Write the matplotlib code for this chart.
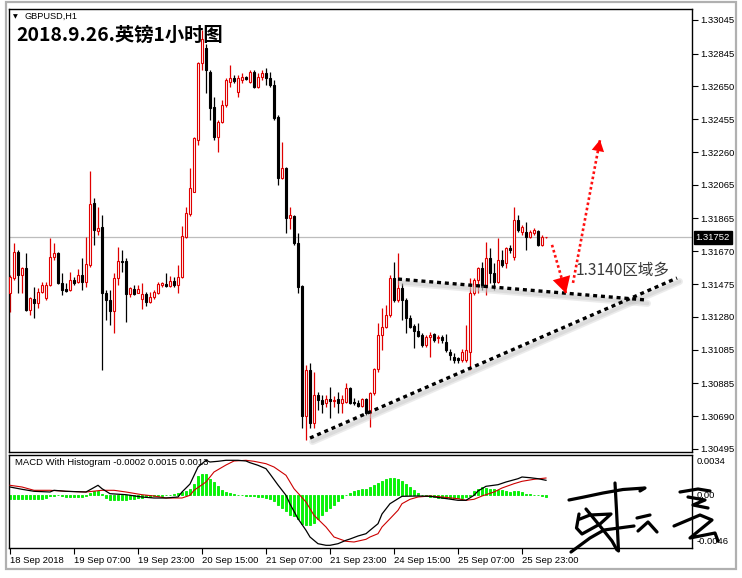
import matplotlib
matplotlib.use('Agg')
import matplotlib.pyplot as plt
import matplotlib.transforms as mtrans
from matplotlib.lines import Line2D
from matplotlib.patches import Rectangle

# ---------------- data ----------------
opens = [1.31420,1.31510,1.31668,1.31530,1.31569,1.31322,1.31385,1.31365,1.31430,1.31391,
         1.31470,1.31638,1.31658,1.31480,1.31444,1.31440,1.31500,1.31490,1.31530,1.31490,
         1.31589,1.31955,1.31793,1.31813,1.31421,1.31381,1.31318,1.31510,1.31613,1.31613,
         1.31415,1.31444,1.31421,1.31385,1.31417,1.31371,1.31397,1.31421,1.31470,1.31476,
         1.31464,1.31494,1.31470,1.31520,1.31753,1.31892,1.32025,1.32332,1.32787,1.32879,
         1.32738,1.32526,1.32352,1.32441,1.32540,1.32678,1.32698,1.32619,1.32688,1.32704,
         1.32678,1.32738,1.32649,1.32704,1.32732,1.32698,1.32659,1.32471,1.32104,1.32163,
         1.31866,1.31880,1.31717,1.31464,1.30691,1.30965,1.30652,1.30816,1.30786,1.30771,
         1.30790,1.30780,1.30790,1.30767,1.30776,1.30856,1.30776,1.30771,1.30751,1.30790,
         1.30707,1.30826,1.30969,1.31173,1.31222,1.31292,1.31509,1.31381,1.31450,1.31381,
         1.31272,1.31226,1.31198,1.31173,1.31113,1.31163,1.31177,1.31153,1.31163,1.31133,
         1.31074,1.31044,1.31034,1.31024,1.31024,1.31074,1.31420,1.31500,1.31569,1.31460,
         1.31628,1.31539,1.31490,1.31619,1.31599,1.31688,1.31638,1.31856,1.31787,1.31787,
         1.31757,1.31777,1.31793,1.31708,1.31752]
highs = [1.31530,1.31718,1.31675,1.31579,1.31658,1.31401,1.31460,1.31450,1.31490,1.31490,
         1.31747,1.31718,1.31665,1.31539,1.31480,1.31549,1.31520,1.31563,1.31628,1.31753,
         1.32147,1.31985,1.31935,1.31886,1.31440,1.31440,1.31539,1.31694,1.31678,1.31628,
         1.31460,1.31470,1.31470,1.31480,1.31430,1.31430,1.31440,1.31490,1.31490,1.31539,
         1.31524,1.31520,1.31589,1.31821,1.31935,1.32163,1.32352,1.32797,1.32986,1.32900,
         1.32748,1.32589,1.32451,1.32570,1.32698,1.32778,1.32718,1.32718,1.32728,1.32712,
         1.32748,1.32748,1.32728,1.32748,1.32758,1.32738,1.32688,1.32481,1.32322,1.32170,
         1.31935,1.31885,1.31777,1.31470,1.30994,1.31004,1.30955,1.30836,1.30816,1.30816,
         1.30866,1.30810,1.30836,1.30816,1.30885,1.30866,1.30796,1.30786,1.30796,1.30796,
         1.30836,1.30975,1.31242,1.31331,1.31351,1.31529,1.31609,1.31658,1.31480,1.31391,
         1.31292,1.31238,1.31242,1.31183,1.31173,1.31193,1.31183,1.31173,1.31173,1.31179,
         1.31088,1.31064,1.31044,1.31088,1.31232,1.31510,1.31510,1.31579,1.31609,1.31728,
         1.31688,1.31599,1.31747,1.31678,1.31698,1.31708,1.31935,1.31886,1.31827,1.31846,
         1.31797,1.31807,1.31797,1.31767,1.31757]
lows = [1.31312,1.31500,1.31421,1.31421,1.31318,1.31292,1.31272,1.31332,1.31421,1.31381,
        1.31464,1.31619,1.31475,1.31411,1.31430,1.31436,1.31470,1.31480,1.31440,1.31460,
        1.31579,1.31708,1.31767,1.30965,1.31262,1.31233,1.31187,1.31470,1.31549,1.31252,
        1.31401,1.31411,1.31421,1.31326,1.31345,1.31361,1.31385,1.31417,1.31460,1.31460,
        1.31456,1.31460,1.31421,1.31510,1.31747,1.31882,1.32020,1.32302,1.32748,1.32609,
        1.32451,1.32332,1.32263,1.32431,1.32530,1.32649,1.32669,1.32585,1.32669,1.32688,
        1.32669,1.32639,1.32639,1.32688,1.32659,1.32649,1.32451,1.32064,1.32098,1.31777,
        1.31801,1.31708,1.31424,1.30618,1.30549,1.30618,1.30618,1.30727,1.30707,1.30747,
        1.30677,1.30747,1.30707,1.30707,1.30767,1.30763,1.30757,1.30747,1.30747,1.30697,
        1.30628,1.30816,1.30955,1.31084,1.31212,1.31282,1.31371,1.31371,1.31262,1.31183,
        1.31212,1.31094,1.31163,1.31103,1.31103,1.31044,1.31133,1.31127,1.31127,1.31074,
        1.31024,1.31008,1.31008,1.31014,1.31014,1.30965,1.31411,1.31420,1.31440,1.31411,
        1.31480,1.31440,1.31480,1.31579,1.31569,1.31658,1.31619,1.31787,1.31767,1.31678,
        1.31747,1.31767,1.31702,1.31702,1.31747]
closes = [1.31520,1.31668,1.31530,1.31569,1.31322,1.31391,1.31365,1.31430,1.31470,1.31470,
          1.31638,1.31658,1.31480,1.31440,1.31436,1.31500,1.31484,1.31530,1.31490,1.31595,
          1.31951,1.31797,1.31807,1.31421,1.31381,1.31318,1.31510,1.31613,1.31607,1.31415,
          1.31450,1.31417,1.31444,1.31417,1.31371,1.31401,1.31430,1.31476,1.31480,1.31464,
          1.31494,1.31470,1.31520,1.31761,1.31896,1.32044,1.32342,1.32787,1.32930,1.32748,
          1.32520,1.32352,1.32441,1.32540,1.32688,1.32698,1.32684,1.32698,1.32708,1.32692,
          1.32738,1.32649,1.32708,1.32732,1.32698,1.32659,1.32461,1.32104,1.32163,1.31866,
          1.31886,1.31717,1.31456,1.30691,1.30965,1.30652,1.30816,1.30786,1.30763,1.30790,
          1.30782,1.30786,1.30767,1.30790,1.30856,1.30771,1.30767,1.30751,1.30790,1.30711,
          1.30826,1.30969,1.31173,1.31222,1.31292,1.31509,1.31381,1.31450,1.31381,1.31272,
          1.31222,1.31198,1.31167,1.31113,1.31163,1.31173,1.31143,1.31163,1.31143,1.31084,
          1.31054,1.31024,1.31024,1.31074,1.31084,1.31420,1.31500,1.31569,1.31460,1.31628,
          1.31539,1.31490,1.31619,1.31589,1.31688,1.31678,1.31856,1.31797,1.31817,1.31757,
          1.31787,1.31797,1.31708,1.31757,1.31752]

last_price = 1.31752
price_ticks = [1.33045,1.32845,1.32650,1.32455,1.32260,1.32065,1.31865,1.31670,
               1.31475,1.31280,1.31085,1.30885,1.30690,1.30495]
time_tick_bars = [0,16,32,48,64,80,96,112,128]
time_labels = ['18 Sep 2018','19 Sep 07:00','19 Sep 23:00','20 Sep 15:00','21 Sep 07:00',
               '21 Sep 23:00','24 Sep 15:00','25 Sep 07:00','25 Sep 23:00']

# MACD histogram, one value per bar
hist = [-0.0004,-0.0004,-0.0004,-0.0004,-0.0004,-0.0004,-0.0004,-0.0004,-0.0004,-0.0003,
        -0.0001,-0.00005,0.0,-0.0001,-0.00015,-0.0002,-0.0002,-0.0002,-0.0002,-0.0001,
        0.0002,0.0004,0.0004,0.0001,-0.0003,-0.0005,-0.0005,-0.0005,-0.0005,-0.0005,
        -0.0004,-0.0004,-0.0003,-0.0003,-0.0002,-0.0002,-0.0001,-0.0001,-0.0001,0.0,
        0.0,0.0001,0.0002,0.0003,0.00037,0.00057,0.0011,0.0019,0.00213,0.0021,
        0.00163,0.0013,0.0009,0.00047,0.0003,0.00017,0.00007,0.0,0.0,-0.00007,
        -0.0001,-0.00013,-0.0002,-0.00023,-0.0003,-0.00043,-0.00063,-0.00097,-0.0013,-0.00163,
        -0.00197,-0.0021,-0.00237,-0.00287,-0.003,-0.00303,-0.00277,-0.00237,-0.00197,-0.00163,
        -0.0013,-0.00097,-0.00063,-0.0003,-0.00003,0.00023,0.0004,0.0005,0.00057,0.00063,
        0.0008,0.00097,0.00123,0.00143,0.00157,0.0017,0.0017,0.00163,0.00137,0.00113,
        0.0008,0.00047,0.00023,0.00003,-0.00007,-0.0002,-0.00023,-0.00025,-0.00025,-0.00025,
        -0.00025,-0.00025,-0.00025,-0.00025,-0.0002,-0.0001,0.00037,0.00063,0.0008,0.0007,
        0.00063,0.00057,0.00047,0.00047,0.00037,0.0003,0.00037,0.00037,0.0003,0.00013,
        0.00013,0.00003,0.00003,-0.0001,-0.0002]

macd_bars = [0,3,6,10,11,14,19,22,23,25,29,33,36,39,42,43,45,47,49,50,52,54,57,59,60,62,64,
             65,67,69,70,72,74,75,77,79,80,82,84,85,87,89,90,92,93,95,97,98,102,105,108,112,
             114,116,117,119,122,124,127,128,130,132,134]
macd_vals = [0.0008,0.00057,0.00037,0.0003,0.00047,0.00037,0.0003,0.00097,0.00063,0.00013,
             0.00003,-0.0002,-0.0003,-0.0003,-0.0002,0.0003,0.0011,0.0028,0.00347,0.0033,
             0.00337,0.00347,0.00347,0.0034,0.00323,0.00297,0.00263,0.0021,0.001,-0.00003,
             -0.0009,-0.00237,-0.00353,-0.0042,-0.00487,-0.00503,-0.00503,-0.00487,-0.00453,
             -0.0044,-0.0041,-0.00387,-0.00353,-0.00287,-0.0019,-0.00087,-0.00037,-0.00013,
             -0.0001,-0.00013,-0.0003,-0.00053,-0.00053,-0.00003,0.0004,0.00087,0.00103,
             0.0013,0.00163,0.0018,0.00173,0.00163,0.00147]
signal_bars = [0,3,6,10,14,19,23,26,29,33,36,39,43,45,46,49,51,54,56,59,61,64,66,69,71,74,
               76,79,81,84,86,89,90,92,93,95,97,98,100,102,105,108,112,114,116,118,121,123,
               126,128,131,134]
signal_vals = [0.00097,0.0008,0.00047,0.00047,0.00037,0.0003,0.00047,0.00047,0.0003,0.00003,
               -0.0001,-0.0003,-0.0003,-0.00003,0.00047,0.0013,0.0023,0.003,0.0034,0.00347,
               0.00337,0.00313,0.0028,0.00197,0.00063,-0.0007,-0.00203,-0.0032,-0.0042,-0.00463,
               -0.0047,-0.00443,-0.0042,-0.00387,-0.0032,-0.00237,-0.00153,-0.00087,-0.00043,
               -0.0002,-0.0001,-0.0002,-0.00037,-0.00053,-0.00043,-0.0001,0.0003,0.0007,
               0.00113,0.00137,0.00157,0.0017]

# annotations (bar index, price)
upper_line_bars = [97, 158.75]
upper_line_prices = [1.31505, 1.31381]
lower_line_bars = [75, 166.75]
lower_line_prices = [1.30560, 1.31511]
arrow_down_bars = [135.5, 139.0]
arrow_down_prices = [1.31708, 1.31420]
arrow_up_bars = [140.75, 147.5]
arrow_up_prices = [1.31482, 1.32332]
note_bar, note_price = 141.5, 1.31559
note_text = '1.3140区域多'

title = '2018.9.26.英镑1小时图'
symbol = 'GBPUSD,H1'
macd_title = 'MACD With Histogram -0.0002 0.0015 0.0013'

# ---------------- figure ----------------
W, H = 742, 578
fig = plt.figure(figsize=(W / 100, H / 100), dpi=100)
fig.patch.set_facecolor('white')

def fx(px):
    return px / W

def fy(py):
    return 1 - py / H

UI = 'Liberation Sans'
RED = '#e00000'

ax = fig.add_axes([fx(9), fy(452), fx(692) - fx(9), fy(9) - fy(452)])
axm = fig.add_axes([fx(9), fy(548), fx(692) - fx(9), fy(455) - fy(548)])

for a in (ax, axm):
    a.set_facecolor('white')
    for s in a.spines.values():
        s.set_color('black')
        s.set_linewidth(1.0)
    a.set_xlim(-0.25, 170.5)

ax.set_ylim(1.30477, 1.33110)
axm.set_ylim(-0.0053, 0.0040)

# current price line
ax.axhline(last_price, color='#bdbdbd', lw=0.9, zorder=1)

# candles
n = len(opens)
xs = list(range(n))
up = [c >= o for o, c in zip(opens, closes)]
wick_cols = [RED if u else 'black' for u in up]
ax.vlines(xs, lows, highs, colors=wick_cols, lw=0.9, zorder=2)
bottoms = [min(o, c) for o, c in zip(opens, closes)]
heights = [abs(c - o) for o, c in zip(opens, closes)]
faces = ['white' if u else 'black' for u in up]
ax.bar(xs, heights, bottom=bottoms, width=0.55, color=faces, edgecolor=wick_cols,
       linewidth=0.8, zorder=3)

# y ticks
ax.yaxis.tick_right()
ax.set_yticks(price_ticks)
ax.set_yticklabels(['%.5f' % p for p in price_ticks])
ax.tick_params(axis='y', direction='out', length=4, width=0.8, pad=2,
               labelsize=6.8, colors='black')
for lab in ax.get_yticklabels():
    lab.set_fontfamily(UI)
ax.set_xticks([])

# current price tag
ax.annotate('%.5f' % last_price, xy=(1.0, last_price), xycoords=('axes fraction', 'data'),
            xytext=(2.5, 0), textcoords='offset points', ha='left', va='center',
            fontsize=6.8, family=UI, color='white',
            bbox=dict(boxstyle='square,pad=0.18', fc='black', ec='black'), zorder=10,
            annotation_clip=False)

# trend lines with soft (blurred-looking) shadow
shadow_tr = mtrans.offset_copy(ax.transData, fig=fig, x=2.5, y=-3.5, units='dots')
for bx, py in ((upper_line_bars, upper_line_prices), (lower_line_bars, lower_line_prices)):
    ax.plot(bx, py, color='#c8c8c8', lw=5.0, alpha=0.35, transform=shadow_tr,
            solid_capstyle='round', zorder=4, clip_on=False)
    ax.plot(bx, py, color='#c8c8c8', lw=2.6, alpha=0.45, transform=shadow_tr,
            solid_capstyle='round', zorder=4, clip_on=False)
    ax.plot(bx, py, color='black', lw=2.4, linestyle=(0, (1.2, 1.15)),
            dash_capstyle='butt', zorder=5, clip_on=False)

# red dotted arrows
ax.plot(arrow_down_bars, arrow_down_prices, color='#ff1010', lw=1.9,
        linestyle=(0, (1, 1)), dash_capstyle='butt', zorder=6)
ax.plot(arrow_up_bars, arrow_up_prices, color='#ff1010', lw=1.9,
        linestyle=(0, (1, 1)), dash_capstyle='butt', zorder=6)

def head(bx, py, scale):
    fb = bx[0] + (bx[1] - bx[0]) * 0.8
    fp = py[0] + (py[1] - py[0]) * 0.8
    ax.annotate('', xy=(bx[1], py[1]), xytext=(fb, fp),
                arrowprops=dict(arrowstyle='-|>,head_length=0.9,head_width=0.5',
                                color='#ff0000', lw=0.0, shrinkA=0, shrinkB=0,
                                mutation_scale=scale), zorder=7)

head(arrow_down_bars, arrow_down_prices, 13)
head(arrow_up_bars, arrow_up_prices, 9)

ax.text(note_bar, note_price, note_text, fontsize=11.2, color='#3a3a3a',
        family=['Noto Sans CJK SC', 'DejaVu Sans'], ha='left', va='center', zorder=8)

# titles
fig.text(fx(16), fy(35), title, fontsize=13.9, fontweight='bold',
         family=['Noto Sans CJK SC', 'DejaVu Sans'], ha='left', va='center', color='black')
fig.text(fx(13), fy(16.5), '▼', fontsize=4.5, family='DejaVu Sans', ha='left', va='center')
fig.text(fx(25), fy(16.5), symbol, fontsize=6.6, family=UI, ha='left', va='center')

# ---------------- MACD ----------------
axm.bar(xs, hist, width=0.7, color='#00ff00', edgecolor='#00e600', linewidth=0.6, zorder=2)
axm.plot(signal_bars, signal_vals, color='#cc0000', lw=0.8, zorder=3)
axm.plot(macd_bars, macd_vals, color='black', lw=0.9, zorder=4)
axm.yaxis.tick_right()
axm.set_yticks([0.0034, 0.0, -0.0046])
axm.set_yticklabels(['0.0034', '0.00', '-0.0046'])
axm.tick_params(axis='y', length=0, pad=3, labelsize=6.8)
for lab in axm.get_yticklabels():
    lab.set_fontfamily(UI)
axm.set_xticks(time_tick_bars)
axm.set_xticklabels(time_labels)
axm.tick_params(axis='x', direction='out', length=4, width=0.8, pad=1.5, labelsize=6.8)
for lab in axm.get_xticklabels():
    lab.set_fontfamily(UI)
    lab.set_horizontalalignment('left')
axm.text(0.009, 0.92, macd_title, transform=axm.transAxes, fontsize=6.8, family=UI,
         ha='left', va='center')

# ---------------- window frame ----------------
fig.add_artist(Rectangle((fx(5.5), fy(568.5)), fx(735.5) - fx(5.5), fy(1.5) - fy(568.5),
                         transform=fig.transFigure, fill=False, ec='#b0b0b0', lw=1.6))

# ---------------- signature (decorative) ----------------
strokes = [
    [(569, 500), (584, 497), (603, 493), (623, 489.5), (645, 488), (640, 491)],
    [(615, 483), (616.5, 510), (617.5, 530), (618.5, 551)],
    [(579, 514), (576.5, 528), (582, 534), (600, 524), (611, 514), (590, 515), (580, 519)],
    [(571, 552), (590, 538), (604, 530), (634, 526)],
    [(586, 509), (600, 526), (612, 541), (617, 550)],
    [(637, 518), (650, 515)],
    [(638, 531), (648, 522), (657, 532)],
    [(680, 492), (698, 489), (710, 491)],
    [(688, 497), (705, 500), (693, 505), (708, 508)],
    [(674, 526), (700, 515), (712, 520), (690, 538), (715, 533), (718, 541)],
]
for s in strokes:
    fig.add_artist(Line2D([fx(p[0]) for p in s], [fy(p[1]) for p in s],
                          transform=fig.transFigure, color='black', lw=2.3,
                          solid_capstyle='round', solid_joinstyle='round'))

fig.savefig('out.png', dpi=100, facecolor='white')
